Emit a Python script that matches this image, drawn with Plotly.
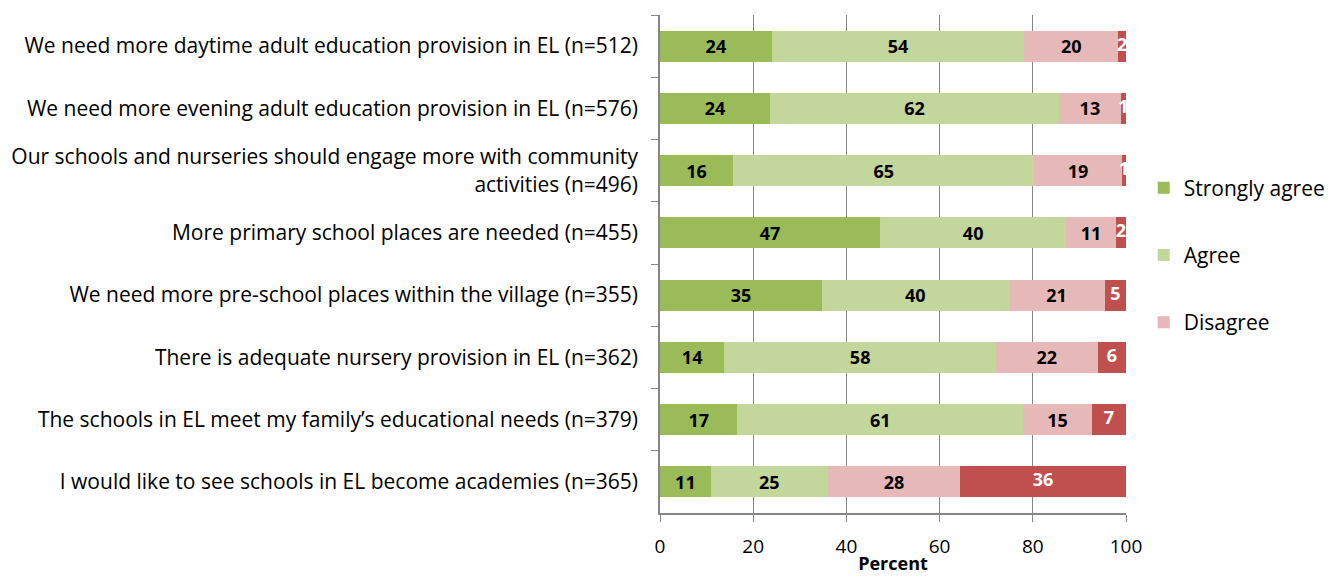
import plotly.graph_objects as go

categories = [
    "We need more daytime adult education provision in EL (n=512)",
    "We need more evening adult education provision in EL (n=576)",
    "Our schools and nurseries should engage more with community<br>activities (n=496)",
    "More primary school places are needed (n=455)",
    "We need more pre-school places within the village (n=355)",
    "There is adequate nursery provision in EL (n=362)",
    "The schools in EL meet my family\u2019s educational needs (n=379)",
    "I would like to see schools in EL become academies (n=365)",
]
strongly_agree = [24.0, 23.6, 15.7, 47.2, 34.8, 13.8, 16.6, 10.9]
agree = [54.2, 62.0, 64.6, 40.0, 40.0, 58.3, 61.3, 25.1]
disagree = [20.1, 13.3, 18.8, 10.6, 20.6, 21.8, 14.8, 28.4]
strongly_disagree = [1.7, 1.1, 0.9, 2.2, 4.6, 6.1, 7.3, 35.6]

series = [
    ("Strongly agree", strongly_agree, "#9BBB59", "black", True),
    ("Agree", agree, "#C3D69B", "black", True),
    ("Disagree", disagree, "#E6B9B8", "black", True),
    ("Strongly disagree", strongly_disagree, "#C0504D", "white", False),
]

FONT = "Open Sans"
fig = go.Figure()
for i, (name, vals, color, tcol, show) in enumerate(series):
    last = i == len(series) - 1
    fig.add_trace(go.Bar(
        y=categories, x=vals, name=name, orientation="h",
        marker=dict(color=color, line=dict(width=0)),
        texttemplate=None if last else "%{x:.0f}",
        textposition="none" if last else "inside", textangle=0,
        insidetextanchor="middle", constraintext="none",
        textfont=dict(family=FONT, size=18, color=tcol, weight="bold"),
        showlegend=show, legendgroup=f"g{i}", cliponaxis=False,
    ))

# labels for the thin last segment (centre of each segment, from the data)
sd_centres = [a + b + c + d / 2 for a, b, c, d in
              zip(strongly_agree, agree, disagree, strongly_disagree)]
fig.add_trace(go.Scatter(
    y=categories, x=sd_centres, mode="text", textposition="middle center",
    text=[f"{v:.0f}" for v in strongly_disagree],
    textfont=dict(family=FONT, size=18, color="white", weight="bold"),
    showlegend=False, hoverinfo="skip", cliponaxis=False,
))

fig.update_layout(
    barmode="stack", bargap=0.5,
    width=1338, height=579,
    margin=dict(l=652, r=220, t=7, b=74),
    paper_bgcolor="white", plot_bgcolor="white",
    font=dict(family=FONT, size=21, color="black"),
    uniformtext=dict(minsize=18, mode="show"),
    legend=dict(x=1.038, y=0.518, yanchor="middle", xanchor="left",
                font=dict(size=21), tracegroupgap=37, itemwidth=30),
    xaxis=dict(range=[0, 100], tickvals=[0, 20, 40, 60, 80, 100],
               showgrid=True, gridcolor="#868686", gridwidth=1,
               showline=True, linecolor="#868686", linewidth=1.5,
               ticks="outside", ticklen=7, tickcolor="#868686",
               tickfont=dict(size=19), zeroline=False, ticklabelstandoff=8,
               automargin=False,
               title=dict(text="<b>Percent</b>", font=dict(size=18), standoff=0)),
    yaxis=dict(autorange="reversed", showline=True, linecolor="#868686",
               linewidth=1.5, ticks="outside", ticklen=7, tickcolor="#868686",
               tickson="boundaries", tickfont=dict(size=21), ticklabelstandoff=16,
               automargin=False),
)
fig.write_html("out.html")
